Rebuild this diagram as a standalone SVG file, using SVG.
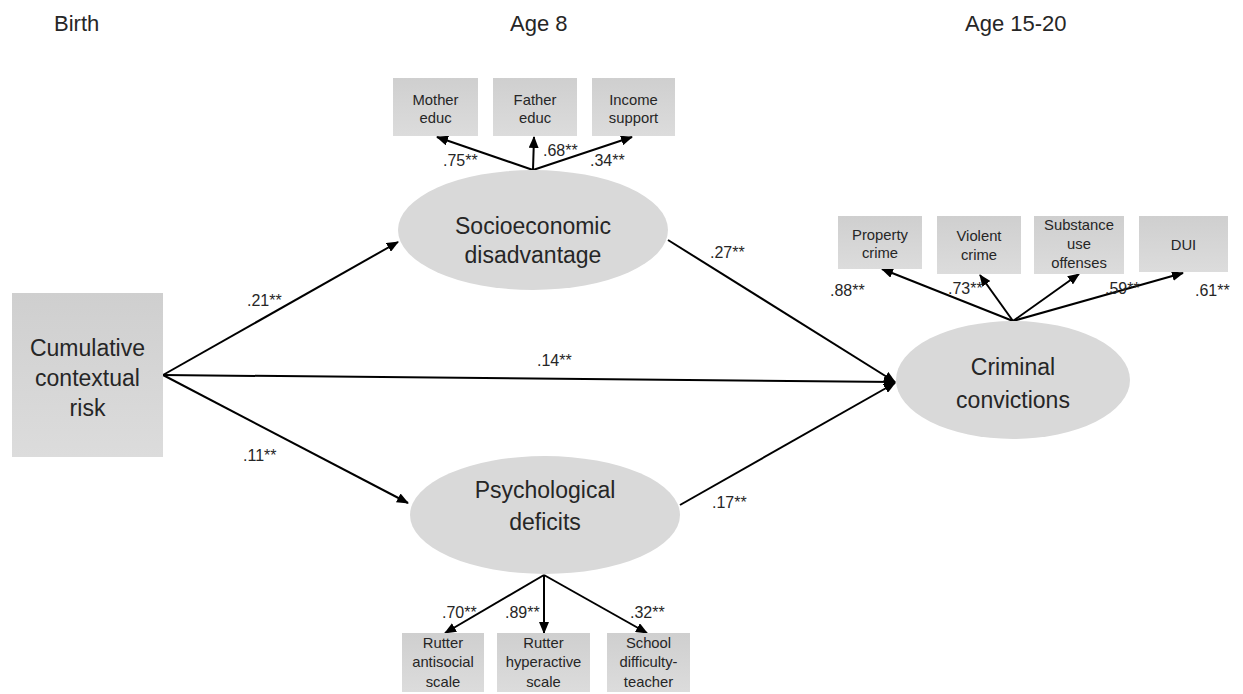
<svg xmlns="http://www.w3.org/2000/svg" width="1243" height="694" viewBox="0 0 1243 694">
<defs>
<marker id="ah" markerUnits="userSpaceOnUse" markerWidth="12" markerHeight="10" refX="11" refY="5" orient="auto">
<path d="M0,0 L12,5 L0,10 z" fill="#000"/>
</marker>
<linearGradient id="boxg" x1="0" y1="0" x2="0" y2="1">
<stop offset="0" stop-color="#cfcfcf"/>
<stop offset="1" stop-color="#dcdcdc"/>
</linearGradient>
<style>
text{font-family:"Liberation Sans",Arial,sans-serif;fill:#262626}
.hdr{font-size:22px}
.box{fill:url(#boxg)}
.ell{fill:#d9d9d9}
.bt{font-size:14.8px;text-anchor:middle}
.big{font-size:23px;text-anchor:middle}
.lab{font-size:16px}
.ln{stroke:#000;stroke-width:2;fill:none;marker-end:url(#ah)}
</style>
</defs>
<rect width="1243" height="694" fill="#fff"/>
<g id="headers">
<text class="hdr" x="54" y="31">Birth</text>
<text class="hdr" x="510" y="31">Age 8</text>
<text class="hdr" x="965" y="31">Age 15-20</text>
</g>
<g id="connectors">
<line class="ln" x1="163" y1="375" x2="398" y2="242"/>
<line class="ln" x1="163" y1="375" x2="895" y2="382"/>
<line class="ln" x1="163" y1="375" x2="408" y2="503"/>
<line class="ln" x1="668" y1="240" x2="895" y2="382"/>
<line class="ln" x1="680" y1="505" x2="895" y2="383"/>
<line class="ln" x1="533" y1="170" x2="437" y2="137"/>
<line class="ln" x1="533" y1="170" x2="534" y2="137"/>
<line class="ln" x1="533" y1="170" x2="632" y2="137"/>
<line class="ln" x1="1013" y1="321" x2="882" y2="269"/>
<line class="ln" x1="1013" y1="321" x2="980" y2="275"/>
<line class="ln" x1="1013" y1="321" x2="1079" y2="274"/>
<line class="ln" x1="1013" y1="321" x2="1183" y2="273"/>
<line class="ln" x1="544" y1="575" x2="445" y2="633"/>
<line class="ln" x1="544" y1="575" x2="544" y2="633"/>
<line class="ln" x1="544" y1="575" x2="647" y2="633"/>
</g>
<g id="labels">
<text class="lab" x="247" y="306">.21**</text>
<text class="lab" x="243" y="461">.11**</text>
<text class="lab" x="537" y="366">.14**</text>
<text class="lab" x="710" y="258">.27**</text>
<text class="lab" x="712" y="508">.17**</text>
<text class="lab" x="443" y="166">.75**</text>
<text class="lab" x="543" y="156">.68**</text>
<text class="lab" x="590" y="166">.34**</text>
<text class="lab" x="830" y="296">.88**</text>
<text class="lab" x="948" y="294">.73**</text>
<text class="lab" x="1105" y="294">.59**</text>
<text class="lab" x="1195" y="296">.61**</text>
<text class="lab" x="442" y="618">.70**</text>
<text class="lab" x="505" y="618">.89**</text>
<text class="lab" x="630" y="618">.32**</text>
</g>
<g id="cumulative-risk">
<rect class="box" x="12" y="293" width="151" height="164"/>
<text class="big" x="87.5" y="356">Cumulative</text>
<text class="big" x="87.5" y="386">contextual</text>
<text class="big" x="87.5" y="416">risk</text>
</g>
<g id="socioeconomic">
<ellipse class="ell" cx="533" cy="230" rx="135" ry="60"/>
<text class="big" x="533" y="234">Socioeconomic</text>
<text class="big" x="533" y="263">disadvantage</text>
</g>
<g id="psychological">
<ellipse class="ell" cx="545" cy="515" rx="135" ry="59"/>
<text class="big" x="545" y="498">Psychological</text>
<text class="big" x="545" y="530">deficits</text>
</g>
<g id="criminal">
<ellipse class="ell" cx="1013" cy="380" rx="117" ry="59"/>
<text class="big" x="1013" y="375">Criminal</text>
<text class="big" x="1013" y="408">convictions</text>
</g>
<g id="mother-educ">
<rect class="box" x="393" y="78" width="85" height="58"/>
<text class="bt" x="435.5" y="105">Mother</text>
<text class="bt" x="435.5" y="123">educ</text>
</g>
<g id="father-educ">
<rect class="box" x="493" y="78" width="84" height="58"/>
<text class="bt" x="535" y="105">Father</text>
<text class="bt" x="535" y="123">educ</text>
</g>
<g id="income-support">
<rect class="box" x="592" y="78" width="83" height="58"/>
<text class="bt" x="633.5" y="105">Income</text>
<text class="bt" x="633.5" y="123">support</text>
</g>
<g id="property-crime">
<rect class="box" x="838" y="216" width="84" height="53"/>
<text class="bt" x="880" y="240">Property</text>
<text class="bt" x="880" y="258">crime</text>
</g>
<g id="violent-crime">
<rect class="box" x="937" y="216" width="84" height="58"/>
<text class="bt" x="979" y="241">Violent</text>
<text class="bt" x="979" y="260">crime</text>
</g>
<g id="substance-use">
<rect class="box" x="1034" y="216" width="90" height="58"/>
<text class="bt" x="1079" y="230">Substance</text>
<text class="bt" x="1079" y="249">use</text>
<text class="bt" x="1079" y="268">offenses</text>
</g>
<g id="dui">
<rect class="box" x="1139" y="216" width="89" height="56"/>
<text class="bt" x="1183.5" y="250">DUI</text>
</g>
<g id="rutter-antisocial">
<rect class="box" x="402" y="633" width="82" height="59"/>
<text class="bt" x="443" y="648">Rutter</text>
<text class="bt" x="443" y="667">antisocial</text>
<text class="bt" x="443" y="687">scale</text>
</g>
<g id="rutter-hyperactive">
<rect class="box" x="497" y="633" width="93" height="59"/>
<text class="bt" x="543.5" y="648">Rutter</text>
<text class="bt" x="543.5" y="667">hyperactive</text>
<text class="bt" x="543.5" y="687">scale</text>
</g>
<g id="school-difficulty">
<rect class="box" x="607" y="633" width="83" height="59"/>
<text class="bt" x="648.5" y="648">School</text>
<text class="bt" x="648.5" y="667">difficulty-</text>
<text class="bt" x="648.5" y="687">teacher</text>
</g>
</svg>
